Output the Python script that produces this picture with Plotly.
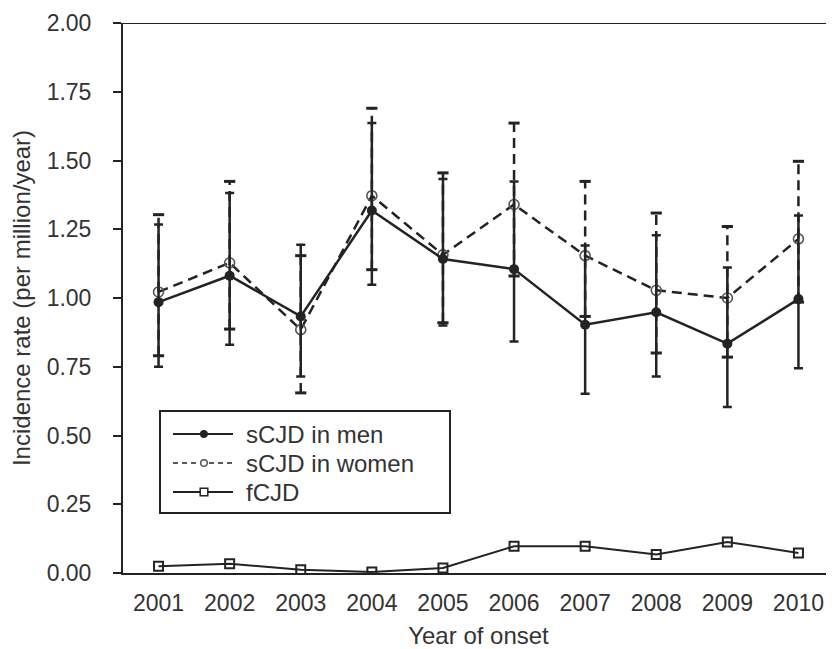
import plotly.graph_objects as go

years = [2001, 2002, 2003, 2004, 2005, 2006, 2007, 2008, 2009, 2010]

men = [0.985, 1.081, 0.933, 1.318, 1.142, 1.105, 0.903, 0.948, 0.834, 0.996]
men_hi = [1.267, 1.382, 1.194, 1.636, 1.433, 1.424, 1.191, 1.228, 1.111, 1.300]
men_lo = [0.750, 0.830, 0.715, 1.048, 0.900, 0.842, 0.652, 0.715, 0.604, 0.745]

women = [1.022, 1.128, 0.885, 1.372, 1.157, 1.340, 1.154, 1.028, 1.000, 1.215]
women_hi = [1.303, 1.424, 1.154, 1.690, 1.455, 1.636, 1.424, 1.309, 1.260, 1.497]
women_lo = [0.790, 0.887, 0.655, 1.103, 0.910, 1.080, 0.933, 0.800, 0.785, 0.985]

fcjd = [0.025, 0.034, 0.012, 0.004, 0.018, 0.097, 0.097, 0.067, 0.113, 0.073]

y_ticks = [0, 0.25, 0.5, 0.75, 1.0, 1.25, 1.5, 1.75, 2.0]

labels = ["sCJD in men", "sCJD in women", "fCJD"]

INK = "#232323"
TXT = "#333333"
FONT = "Liberation Sans, Arial, sans-serif"

# page body has an 8px margin; the figure is sized so the plot lands where the reference's does
OFF = 8
W, H = 826, 641
ML, MR, MT, MB = 115, 0, 15, 76
PW, PH = W - ML - MR, H - MT - MB

fig = go.Figure()

# women's dashed error bars (built from the data arrays)
ex, ey = [], []
for x, lo, hi in zip(years, women_lo, women_hi):
    ex += [x, x, None]
    ey += [lo, hi, None]
fig.add_trace(go.Scatter(x=ex, y=ey, mode="lines",
                         line=dict(color=INK, width=2.5, dash="10px,6px"),
                         showlegend=False, hoverinfo="skip"))
fig.add_trace(go.Scatter(x=years + years, y=women_lo + women_hi, mode="markers",
                         marker=dict(symbol="line-ew-open", size=8, color=INK,
                                     line=dict(color=INK, width=3)),
                         showlegend=False, hoverinfo="skip"))

# women line
fig.add_trace(go.Scatter(x=years, y=women, mode="lines+markers", name=labels[1],
                         line=dict(color=INK, width=2.5, dash="10px,6px"),
                         marker=dict(symbol="circle-open", size=10, color="#555555",
                                     line=dict(color="#555555", width=1.6)),
                         showlegend=False))

# men line with error bars
fig.add_trace(go.Scatter(x=years, y=men, mode="lines+markers", name=labels[0],
                         line=dict(color=INK, width=2.5),
                         marker=dict(symbol="circle", size=10, color=INK),
                         error_y=dict(type="data", symmetric=False,
                                      array=[h - v for h, v in zip(men_hi, men)],
                                      arrayminus=[v - l for v, l in zip(men, men_lo)],
                                      color=INK, thickness=2.5, width=4.5),
                         showlegend=False))

# fCJD
fig.add_trace(go.Scatter(x=years, y=fcjd, mode="lines+markers", name=labels[2],
                         line=dict(color=INK, width=2),
                         marker=dict(symbol="square-open", size=9, color=INK,
                                     line=dict(color=INK, width=2)),
                         showlegend=False))

# top border line
fig.add_shape(type="line", xref="paper", yref="y", x0=-8 / PW, x1=1, y0=2, y1=2,
              line=dict(color=INK, width=2))

# custom legend (reference-pixel geometry converted to paper coords)
def px(x):
    return (x - OFF - ML) / PW

def py(y):
    return (OFF + H - MB - y) / PH

fig.add_shape(type="rect", xref="paper", yref="paper",
              x0=px(160), x1=px(450), y0=py(513), y1=py(411),
              line=dict(color=INK, width=2), fillcolor="white", layer="above")
rows = [434, 463, 492]
for i, (lab, ry) in enumerate(zip(labels, rows)):
    fig.add_shape(type="line", xref="paper", yref="paper",
                  x0=px(173), x1=px(233), y0=py(ry), y1=py(ry),
                  line=dict(color=INK, width=1.8 if i != 1 else 1.6,
                            dash="solid" if i != 1 else "5px,4px"),
                  layer="above")
    r = 3.3 if i < 2 else 3.8
    kind = "circle" if i < 2 else "rect"
    fill = INK if i == 0 else "white"
    fig.add_shape(type=kind, xref="paper", yref="paper",
                  x0=px(204 - r), x1=px(204 + r), y0=py(ry + r), y1=py(ry - r),
                  line=dict(color=INK if i != 1 else "#555555", width=1.5),
                  fillcolor=fill, layer="above")
    fig.add_annotation(xref="paper", yref="paper", x=px(244), y=py(ry),
                       text=lab, showarrow=False, xanchor="left", yanchor="middle",
                       font=dict(family=FONT, size=24, color=TXT))

fig.update_layout(
    width=W, height=H,
    margin=dict(l=ML, r=MR, t=MT, b=MB),
    paper_bgcolor="white", plot_bgcolor="white",
    font=dict(family=FONT, size=23, color=TXT),
    showlegend=False,
    xaxis=dict(range=[2000.5, 2010.5], tickvals=years, ticks="",
               showline=True, linecolor=INK, linewidth=2, showgrid=False,
               zeroline=False, tickfont=dict(size=23, color=TXT),
               ticklabelstandoff=8,
               title=dict(text="Year of onset", standoff=16,
                          font=dict(size=24, color=TXT)),
               automargin=False),
    yaxis=dict(range=[0, 2], tickvals=y_ticks, tickformat=".2f",
               ticks="outside", ticklen=8, tickwidth=2, tickcolor=INK,
               showline=True, linecolor=INK, linewidth=2, showgrid=False,
               zeroline=False, tickfont=dict(size=23, color=TXT),
               ticklabelstandoff=17,
               title=dict(text="Incidence rate (per million/year)", standoff=14,
                          font=dict(size=24, color=TXT)),
               automargin=False),
)

fig.write_html("out.html")
